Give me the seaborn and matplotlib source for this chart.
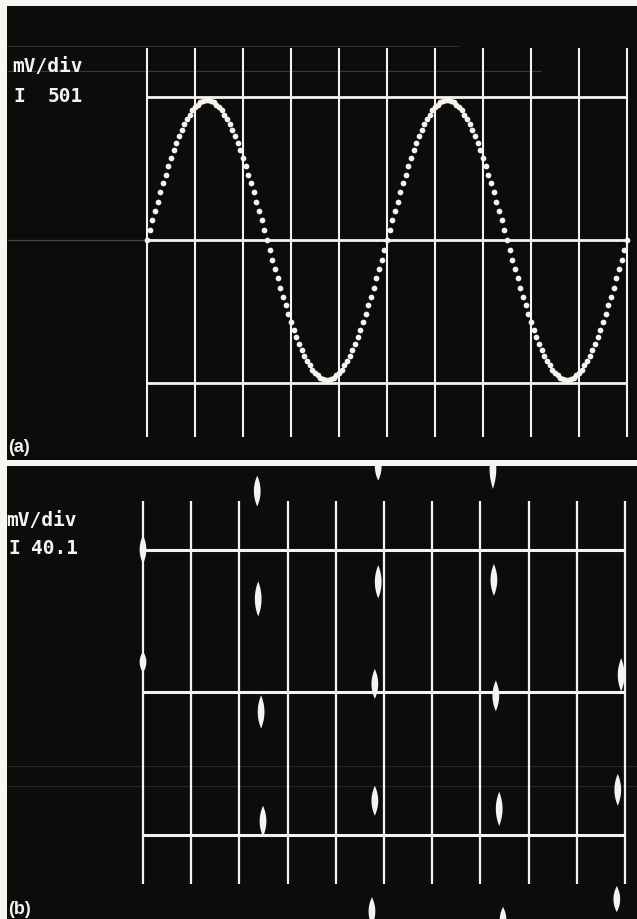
import numpy as np
import pandas as pd
import matplotlib
matplotlib.use("Agg")
import matplotlib.pyplot as plt
import seaborn as sns

sns.set_theme(style="dark")
plt.rcParams['font.family'] = ['DejaVu Sans']

# %% DATA
# (a) sampled sine trace, 501 mV/div, values in divisions (2 cycles over 10 div)
trace_div = [
    0.00, 0.20, 0.41, 0.61, 0.80, 1.00, 1.19, 1.37, 1.55, 1.72, 1.88, 2.03, 2.17, 2.30, 2.42,
    2.53, 2.62, 2.71, 2.78, 2.83, 2.88, 2.90, 2.92,
    2.92, 2.90, 2.88, 2.83, 2.78, 2.71, 2.62, 2.53, 2.42, 2.30, 2.17, 2.03, 1.88, 1.72, 1.55,
    1.37, 1.19, 1.00, 0.80, 0.61, 0.41, 0.20, 0.00,
    -0.20, -0.41, -0.61, -0.80, -1.00, -1.19, -1.37, -1.55, -1.72, -1.88, -2.03, -2.17, -2.30,
    -2.42, -2.53, -2.62, -2.71, -2.78, -2.83, -2.88, -2.90, -2.92,
    -2.92, -2.90, -2.88, -2.83, -2.78, -2.71, -2.62, -2.53, -2.42, -2.30, -2.17, -2.03, -1.88,
    -1.72, -1.55, -1.37, -1.19, -1.00, -0.80, -0.61, -0.41, -0.20,
    0.00, 0.20, 0.41, 0.61, 0.80, 1.00, 1.19, 1.37, 1.55, 1.72, 1.88, 2.03, 2.17, 2.30, 2.42,
    2.53, 2.62, 2.71, 2.78, 2.83, 2.88, 2.90, 2.92,
    2.92, 2.90, 2.88, 2.83, 2.78, 2.71, 2.62, 2.53, 2.42, 2.30, 2.17, 2.03, 1.88, 1.72, 1.55,
    1.37, 1.19, 1.00, 0.80, 0.61, 0.41, 0.20, 0.00,
    -0.20, -0.41, -0.61, -0.80, -1.00, -1.19, -1.37, -1.55, -1.72, -1.88, -2.03, -2.17, -2.30,
    -2.42, -2.53, -2.62, -2.71, -2.78, -2.83, -2.88, -2.90, -2.92,
    -2.92, -2.90, -2.88, -2.83, -2.78, -2.71, -2.62, -2.53, -2.42, -2.30, -2.17, -2.03, -1.88,
    -1.72, -1.55, -1.37, -1.19, -1.00, -0.80, -0.61, -0.41, -0.20,
    0.00,
]
sweep_div = 10.0

# (b) 40.1 mV/div, spindle-shaped blips: column position, level, length (div)
blip_x = [2.37, 2.39, 4.88, 7.26, 4.88, 7.28, 0.00, 0.00, 4.81, 2.45, 7.32, 9.92,
          4.81, 2.49, 7.39, 9.85, 4.75, 7.47, 9.83]
blip_y = [4.23, 1.96, 4.75, 4.70, 2.32, 2.36, 3.00, 0.63, 0.17, -0.42, -0.08, 0.36,
          -2.29, -2.72, -2.46, -2.06, -4.62, -4.80, -4.36]
blip_h = [0.65, 0.74, 0.60, 0.85, 0.70, 0.67, 0.60, 0.45, 0.63, 0.70, 0.65, 0.70,
          0.63, 0.65, 0.72, 0.67, 0.60, 0.55, 0.55]

readout_a = ["mV/div", "I", "501"]
readout_b = ["mV/div", "I", "40.1"]
panel_labels = ["(a)", "(b)"]

grid_cols = list(range(11))
grid_rows = [-3, 0, 3]

# %% FIGURE
W, H = 637, 920
paper = "#f8f6f1"
screen = "#0d0c0d"
ink = "#f6f2ee"
fig = plt.figure(figsize=(W / 100, H / 100), dpi=100, facecolor=paper)

ax_a = fig.add_axes([7 / W, (H - 461) / H, 630 / W, 454 / H])
ax_b = fig.add_axes([7 / W, 0, 630 / W, 453 / H])

for ax in (ax_a, ax_b):
    ax.set_facecolor(screen)
    ax.set_xticks([])
    ax.set_yticks([])
    ax.grid(False)
    for s in ax.spines.values():
        s.set_visible(False)

# pixel -> division mapping
ax_a.set_xlim((7 - 147) / 48, (637 - 147) / 48)
ax_a.set_ylim((241 - 461) / 47.8, (241 - 7) / 47.8)
ax_b.set_xlim((7 - 143) / 48.2, (637 - 143) / 48.2)
ax_b.set_ylim((693 - 920) / 47.5, (693 - 467) / 47.5)

# faint scan artefacts
ax_a.hlines([3.54], -2.92, 8.2, color="#3a3a3a", lw=0.8, zorder=1)
ax_a.hlines([4.06], -2.92, 6.5, color="#2e2e2e", lw=0.8, zorder=1)
ax_a.hlines([0], -2.92, 0, color="#444444", lw=0.9, zorder=1)
ax_b.hlines([-1.56, -1.98], -2.9, 10.3, color="#2a2424", lw=0.8, zorder=1)

# graticule
ax_a.vlines(grid_cols, -4.12, 4.02, color=ink, lw=1.5, zorder=2)
ax_a.hlines(grid_rows, 0, 10, color=ink, lw=2.0, zorder=2)
ax_b.vlines(grid_cols, -4.04, 4.02, color=ink, lw=1.6, zorder=2)
ax_b.hlines(grid_rows, 0, 10, color=ink, lw=2.2, zorder=2)

# (a) dotted trace
df_a = pd.DataFrame({"t": np.linspace(0, sweep_div, len(trace_div)), "v": trace_div})
sns.scatterplot(data=df_a, x="t", y="v", ax=ax_a, color=ink, s=17, linewidth=0,
                zorder=3, legend=False)

# (b) spindles
t = np.linspace(-1, 1, 25)
for bx, by, bh in zip(blip_x, blip_y, blip_h):
    half = 0.07 * (1 - t ** 2)
    ax_b.fill(np.r_[bx + half, (bx - half)[::-1]], np.r_[by + t * bh / 2, (by + t * bh / 2)[::-1]],
              color=ink, lw=0, zorder=3)

for ax in (ax_a, ax_b):
    ax.set_xlabel("")
    ax.set_ylabel("")

# readouts
mono = dict(family="DejaVu Sans Mono", fontweight="bold", fontsize=14, color=ink, va="center")
ax_a.text((12 - 147) / 48, (241 - 66) / 47.8, readout_a[0], **mono)
ax_a.text((13 - 147) / 48, (241 - 96) / 47.8, readout_a[1], **mono)
ax_a.text((48 - 147) / 48, (241 - 96) / 47.8, readout_a[2], **mono)
ax_b.text((6 - 143) / 48.2, (693 - 520) / 47.5, readout_b[0], **mono)
ax_b.text((8 - 143) / 48.2, (693 - 549) / 47.5, readout_b[1], **mono)
ax_b.text((31 - 143) / 48.2, (693 - 549) / 47.5, readout_b[2], **mono)

lab = dict(family="Liberation Sans", fontweight="bold", fontsize=13, color=ink,
           ha="left", va="bottom")
ax_a.text(0.002, 0.010, panel_labels[0], transform=ax_a.transAxes, **lab)
ax_b.text(0.002, 0.004, panel_labels[1], transform=ax_b.transAxes, **lab)

fig.savefig("out.png", dpi=100, facecolor=paper)
